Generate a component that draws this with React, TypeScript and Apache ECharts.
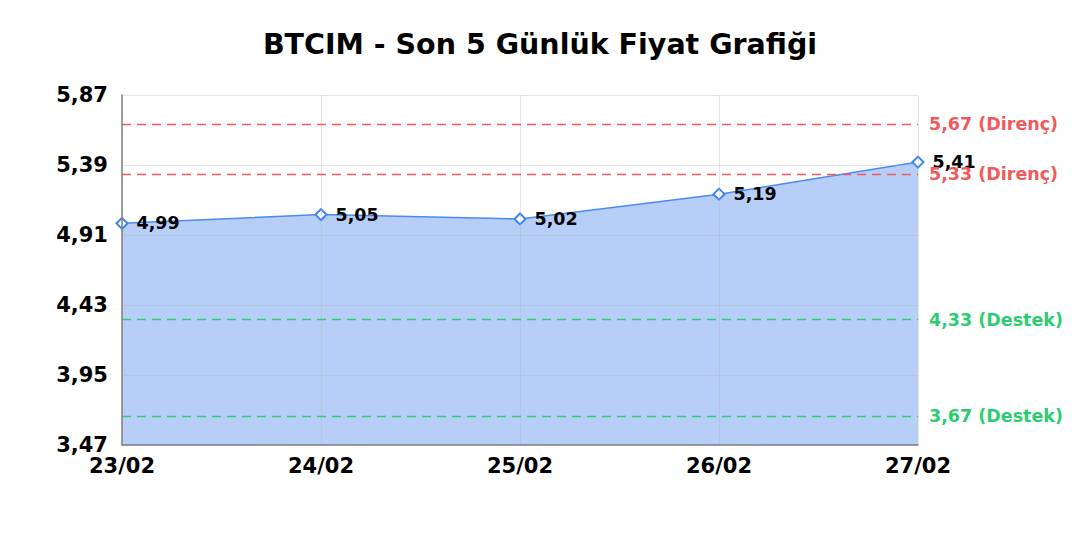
import React, { useEffect, useRef } from 'react';
import * as echarts from 'echarts';

const dates = ['23/02', '24/02', '25/02', '26/02', '27/02'];
const prices = [4.99, 5.05, 5.02, 5.19, 5.41];
const yTicks = [3.47, 3.95, 4.43, 4.91, 5.39, 5.87];
const resistance = [5.67, 5.33];
const support = [4.33, 3.67];

const fmt = (v: number) => v.toFixed(2).replace('.', ',');

const App: React.FC = () => {
    const chartRef = useRef<HTMLDivElement>(null);

    useEffect(() => {
        if (!chartRef.current) return;
        document.body.style.margin = '0';

        const chart = echarts.init(chartRef.current, null, { renderer: 'svg' });
        const font = 'DejaVu Sans';

        const lineLabel = (color: string, kind: string) => ({
            show: true,
            position: 'end',
            distance: 11,
            color,
            fontFamily: font,
            fontWeight: 'bold',
            fontSize: 17.5,
            formatter: (p: any) => `${fmt(p.value)} (${kind})`
        });

        const option = {
            animation: false,
            backgroundColor: '#ffffff',
            textStyle: { fontFamily: font },
            title: {
                text: 'BTCIM - Son 5 Günlük Fiyat Grafiği',
                left: 'center',
                top: 25,
                textStyle: { fontFamily: font, fontWeight: 'bold', fontSize: 28.5, color: '#000' }
            },
            grid: { left: 122, right: 162, top: 95, bottom: 95 },
            xAxis: {
                type: 'category',
                data: dates,
                boundaryGap: false,
                z: 5,
                axisLine: { lineStyle: { color: '#808080', width: 1.5 } },
                axisTick: { show: false },
                axisLabel: { color: '#000', fontWeight: 'bold', fontSize: 21, margin: 10 },
                splitLine: { show: true, lineStyle: { color: 'rgba(180, 180, 180, 0.35)' } }
            },
            yAxis: {
                type: 'value',
                min: 3.47,
                max: 5.87,
                z: 5,
                axisLine: { show: true, lineStyle: { color: '#808080', width: 1.5 } },
                axisTick: { show: false, customValues: yTicks },
                axisLabel: {
                    customValues: yTicks,
                    color: '#000',
                    fontWeight: 'bold',
                    fontSize: 21,
                    margin: 14,
                    formatter: (v: number) => fmt(v)
                },
                splitLine: { show: true, lineStyle: { color: 'rgba(180, 180, 180, 0.35)' } }
            },
            series: [
                {
                    type: 'line',
                    data: prices,
                    symbol: 'emptyDiamond',
                    symbolSize: 11,
                    z: 2,
                    lineStyle: { color: '#4a8af4', width: 1.5 },
                    itemStyle: { color: '#3b82f6', borderWidth: 2 },
                    areaStyle: { color: '#b7cff8', opacity: 1, origin: 'start' },
                    label: {
                        show: true,
                        position: 'right',
                        distance: 8,
                        color: '#000',
                        fontWeight: 'bold',
                        fontSize: 17.5,
                        formatter: (p: any) => fmt(p.value)
                    },
                    markLine: {
                        silent: true,
                        symbol: 'none',
                        data: [
                            ...resistance.map(v => ({
                                yAxis: v,
                                lineStyle: { color: '#f05a5a', type: [9, 6], width: 1.3 },
                                label: lineLabel('#f05a5a', 'Direnç')
                            })),
                            ...support.map(v => ({
                                yAxis: v,
                                lineStyle: { color: '#2ecc71', type: [9, 6], width: 1.3 },
                                label: lineLabel('#2ecc71', 'Destek')
                            }))
                        ]
                    }
                }
            ]
        };

        chart.setOption(option as any);

        return () => {
            chart.dispose();
        };
    }, []);

    return <div ref={chartRef} style={{ width: 1080, height: 540 }} />;
};

export default App;
